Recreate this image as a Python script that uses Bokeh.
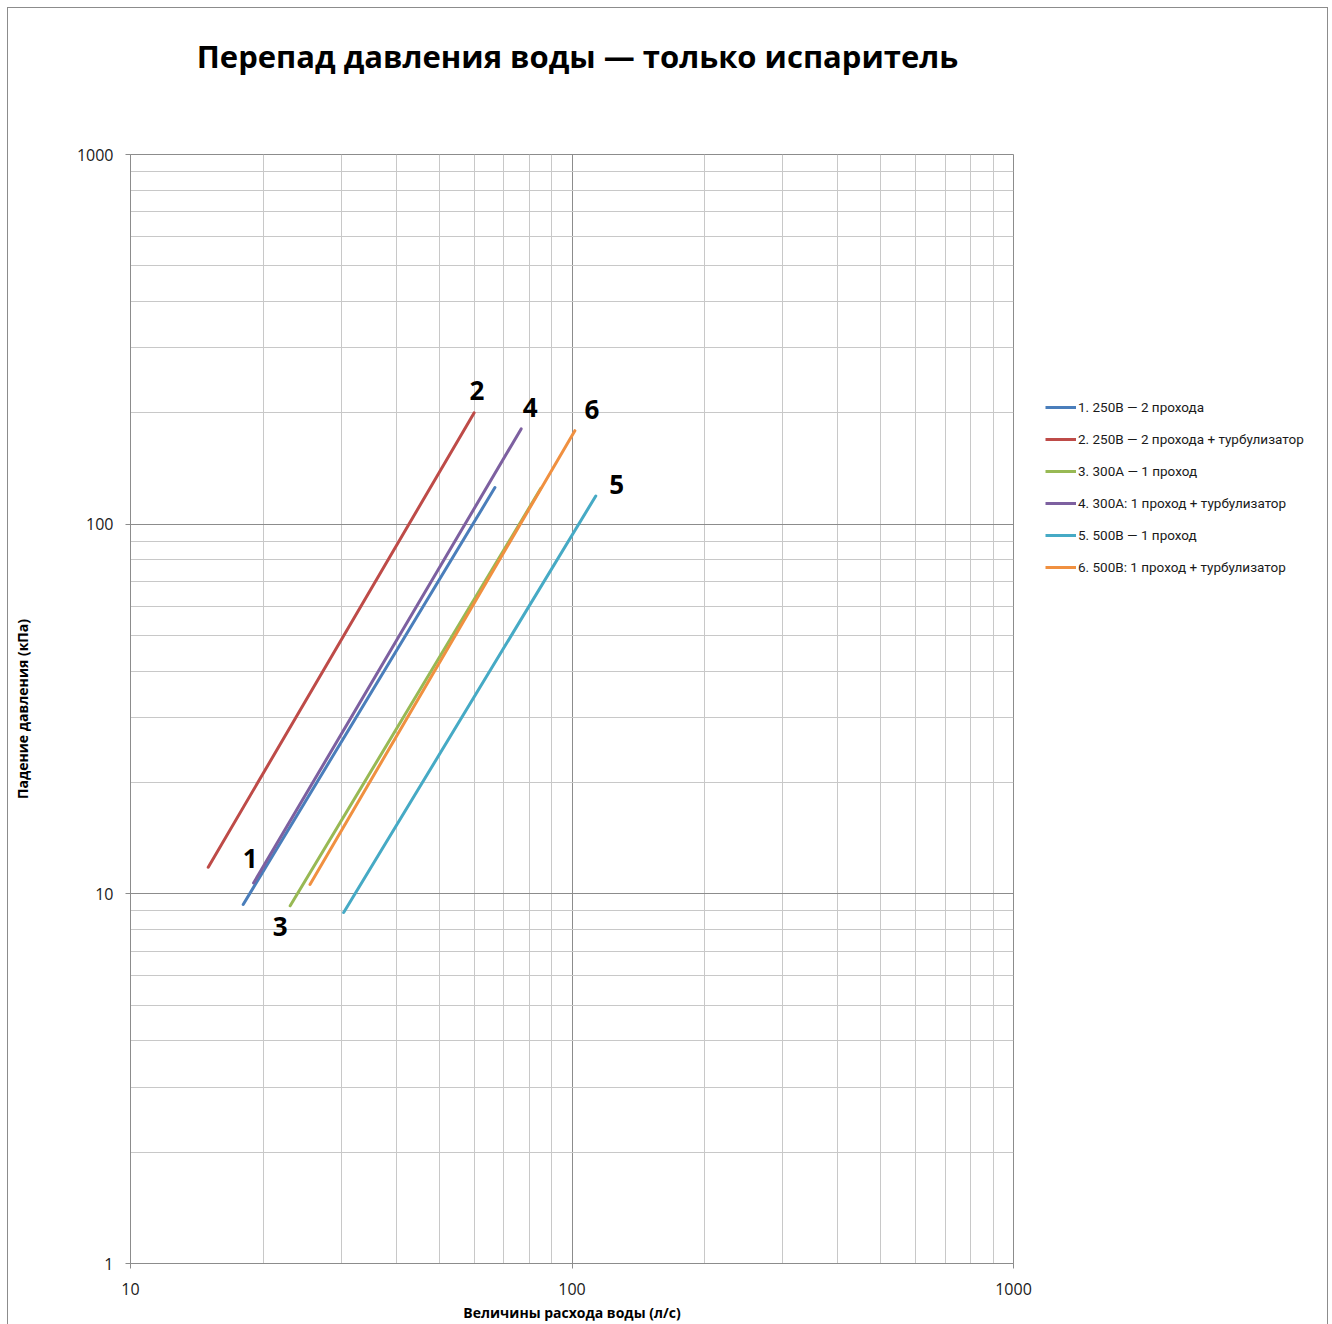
from bokeh.plotting import figure
from bokeh.layouts import row
from bokeh.models import (Legend, LegendItem, FixedTicker, CustomJSTickFormatter,
                          ColumnDataSource, Range1d)
from bokeh.core.properties import value
from bokeh.embed import file_html
from bokeh.resources import INLINE

# ---------------- data ----------------
title_text = "Перепад давления воды — только испаритель"
x_label = "Величины расхода воды (л/с)"
y_label = "Падение давления (кПа)"

series_ids = ["1", "2", "3", "4", "5", "6"]
series_names = [
    "1. 250B — 2 прохода",
    "2. 250B — 2 прохода + турбулизатор",
    "3. 300A — 1 проход",
    "4. 300A: 1 проход + турбулизатор",
    "5. 500B — 1 проход",
    "6. 500B: 1 проход + турбулизатор",
]
# water flow (l/s) and pressure drop (kPa), start and end of each curve
flow_1 = [18.0, 66.9]
dp_1 = [9.36, 125.6]
flow_2 = [15.0, 60.0]
dp_2 = [11.8, 200.0]
flow_3 = [23.0, 85.0]
dp_3 = [9.28, 125.0]
flow_4 = [19.0, 76.7]
dp_4 = [10.7, 181.0]
flow_5 = [30.4, 113.2]
dp_5 = [8.9, 119.2]
flow_6 = [25.5, 101.5]
dp_6 = [10.6, 179.0]

x_major = [10, 100, 1000]
y_major = [1, 10, 100, 1000]

# ---------------- styles ----------------
colors = ["#4A7EBB", "#BE4B48", "#98B954", "#7D60A0", "#46AAC5", "#F09040"]
# which end of the curve carries the number label, and its pixel offset
label_end = [0, -1, 0, -1, -1, -1]
label_dx = [7, 3, -10, 9, 21, 17]
label_dy = [-46, -22, 21, -21, -11, -21]

flows = [flow_1, flow_2, flow_3, flow_4, flow_5, flow_6]
dps = [dp_1, dp_2, dp_3, dp_4, dp_5, dp_6]

x_minor = [m * d for d in x_major[:-1] for m in range(2, 10)]
y_minor = [m * d for d in y_major[:-1] for m in range(2, 10)]

p = figure(x_axis_type="log", y_axis_type="log",
           x_range=Range1d(10, 1000), y_range=Range1d(1, 1000),
           width=1025, height=1316,
           min_border_left=122, min_border_right=20,
           min_border_top=146, min_border_bottom=51,
           output_backend="svg", toolbar_location=None, title=title_text,
           background_fill_color="white", border_fill_color="white",
           outline_line_color="#8c8c8c")

p.title.align = "center"
p.title.text_font = "Open Sans"
p.title.text_font_style = "bold"
p.title.text_font_size = "31px"
p.title.text_color = "#000000"
p.title.standoff = 0
p.title.padding = dict(left=11, right=0, top=0, bottom=78)

xt = FixedTicker(ticks=x_major, minor_ticks=x_minor)
yt = FixedTicker(ticks=y_major, minor_ticks=y_minor)
p.xaxis.ticker = xt
p.yaxis.ticker = yt
p.xgrid.ticker = xt
p.ygrid.ticker = yt
fmt = CustomJSTickFormatter(code="return String(Math.round(tick));")
for ax in (p.xaxis[0], p.yaxis[0]):
    ax.formatter = fmt
    ax.axis_line_color = "#8c8c8c"
    ax.major_tick_line_color = "#8c8c8c"
    ax.major_tick_out = 5
    ax.major_tick_in = 0
    ax.minor_tick_out = 0
    ax.minor_tick_in = 0
    ax.major_label_text_font = "Open Sans"
    ax.major_label_text_font_size = "16px"
    ax.major_label_text_color = "#1a1a1a"
    ax.axis_label_text_font = "Open Sans"
    ax.axis_label_text_font_style = "bold"
    ax.axis_label_text_font_size = "14px"
    ax.axis_label_text_color = "#000000"

p.xaxis.axis_label = x_label
p.yaxis.axis_label = y_label
p.yaxis.major_label_standoff = 12
p.xaxis.major_label_standoff = 14
p.xaxis.axis_label_standoff = 5
p.yaxis.axis_label_standoff = 42

for g in (p.xgrid[0], p.ygrid[0]):
    g.grid_line_color = "#8c8c8c"
    g.minor_grid_line_color = "#c8c8c8"
    g.grid_line_width = 1
    g.minor_grid_line_width = 1

for sid, name, fx, dy_, col in zip(series_ids, series_names, flows, dps, colors):
    src = ColumnDataSource(dict(x=fx, y=dy_))
    p.line("x", "y", source=src, line_color=col, line_width=3, line_cap="round")

for sid, fx, dy_, end, dx, ddy in zip(series_ids, flows, dps, label_end, label_dx, label_dy):
    p.text(x=[fx[end]], y=[dy_[end]], text=[sid], x_offset=dx, y_offset=ddy,
           text_font=value("Open Sans"), text_font_style="bold", text_font_size="26px",
           text_color="#000000", text_align="center", text_baseline="middle")

# legend panel to the right of the chart (its frame is aligned with the chart's frame)
pl = figure(width=294, height=1316, x_range=Range1d(0, 1), y_range=Range1d(0, 1),
            x_axis_type=None, y_axis_type=None, min_border=0,
            output_backend="svg", toolbar_location=None, title=None,
            background_fill_color="white", border_fill_color="white",
            outline_line_color=None)
pl.xgrid.visible = False
pl.ygrid.visible = False
items = []
for name, col in zip(series_names, colors):
    r = pl.line(x=[float("nan")], y=[float("nan")], line_color=col, line_width=3)
    items.append(LegendItem(label=name, renderers=[r]))

legend = Legend(items=items, location=(12, 686), orientation="vertical",
                glyph_width=31, glyph_height=20, label_height=20, label_standoff=2,
                spacing=12, padding=0, margin=0,
                label_text_font="Roboto", label_text_font_size="13.5px",
                label_text_color="#1a1a1a",
                background_fill_alpha=0, border_line_color=None)
pl.add_layout(legend, "center")

layout = row(p, pl, spacing=0)
layout.styles = {"margin": "8px 0 0 8px", "outline": "1px solid #8c8c8c"}

open("out.html", "w").write(file_html(layout, INLINE))
